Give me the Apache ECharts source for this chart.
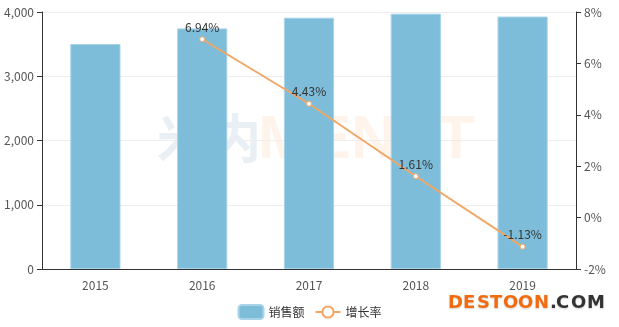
<!DOCTYPE html>
<html><head><meta charset="utf-8">
<script src="https://cdn.jsdelivr.net/npm/echarts@6/dist/echarts.min.js"></script>
<style>html,body{margin:0;padding:0;background:#fff}#c{width:619px;height:327px}</style>
</head><body><div id="c"></div>
<script>
var categories = ['2015','2016','2017','2018','2019'];
var salesValues = [3502, 3745, 3911, 3974, 3929];
var growthValues = [null, 6.94, 4.43, 1.61, -1.13];
var leftTicks = {min: 0, max: 4000, interval: 1000};
var rightTicks = {min: -2, max: 8, interval: 2};

var chart = echarts.init(document.getElementById('c'));
var font = '"Noto Sans CJK SC", "Noto Sans", sans-serif';

var markChars = ['D','E','S','T','O','O','N','.','C','O','M'];
var markX = [448,463,477,490,503,518,534,550,556,571,587];
var markGraphics = markChars.map(function(ch, i){
  return {type: 'text', left: markX[i], top: 294, z: 100,
    style: {text: ch, fontSize: 18, fontWeight: 'bold', fill: i < 7 ? '#f26b0f' : '#333',
      fontFamily: 'DejaVu Sans, sans-serif', textShadowColor: 'rgba(0,0,0,0.18)', textShadowBlur: 2, textShadowOffsetY: 1}};
});

chart.setOption({
  animation: false,
  textStyle: {fontFamily: font},
  grid: {left: 42, right: 43, top: 12, bottom: 58},
  graphic: [
    {type: 'text', left: 157, top: 112, z: 0, style: {text: '米内', fontSize: 52, fontWeight: 'bold', fill: 'rgba(120,160,190,0.16)', fontFamily: font}},
    {type: 'text', left: 258, top: 110, z: 0, style: {text: 'MENET', fontSize: 62, fontWeight: 'bold', fill: 'rgba(245,180,120,0.14)', fontFamily: 'Liberation Sans, sans-serif'}}
  ].concat(markGraphics),
  legend: {
    bottom: 2, left: 'center',
    itemWidth: 25, itemHeight: 14, itemGap: 10,
    textStyle: {color: '#333', fontSize: 12},
    data: [{name: '销售额', icon: 'roundRect'}, {name: '增长率'}]
  },
  xAxis: {
    type: 'category', data: categories,
    axisLine: {lineStyle: {color: '#333'}},
    axisTick: {lineStyle: {color: '#333'}},
    axisLabel: {color: '#555', fontSize: 12, margin: 10}
  },
  yAxis: [
    {type: 'value', min: leftTicks.min, max: leftTicks.max, interval: leftTicks.interval,
     axisLine: {show: true, lineStyle: {color: '#333'}}, axisTick: {show: true},
     axisLabel: {color: '#555', fontSize: 12, margin: 8, formatter: function(v){return v.toLocaleString('en-US');}},
     splitLine: {lineStyle: {color: '#eee'}}},
    {type: 'value', min: rightTicks.min, max: rightTicks.max, interval: rightTicks.interval,
     axisLine: {show: true, lineStyle: {color: '#333'}}, axisTick: {show: true},
     axisLabel: {color: '#555', fontSize: 12, margin: 8, formatter: '{value}%'},
     splitLine: {show: false}}
  ],
  series: [
    {name: '销售额', type: 'bar', data: salesValues, barWidth: '47%',
     itemStyle: {color: '#7dbdda', borderColor: '#a8d3e8', borderWidth: 1}},
    {name: '增长率', type: 'line', yAxisIndex: 1, data: growthValues,
     symbol: 'circle', symbolSize: 5, showAllSymbol: true,
     lineStyle: {color: '#f0a765', width: 2},
     itemStyle: {color: '#fff', borderColor: '#f0a765', borderWidth: 1},
     label: {show: true, position: 'top', color: '#333', fontSize: 12, distance: 3, formatter: '{c}%'}}
  ]
});
</script></body></html>
